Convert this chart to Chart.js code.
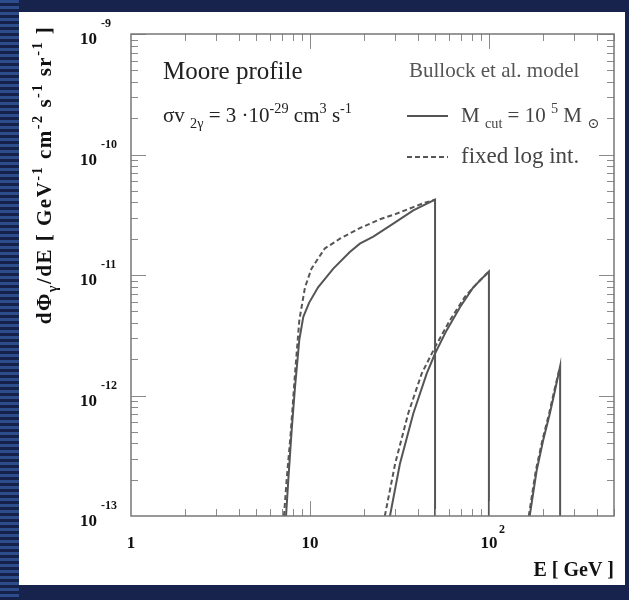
<!DOCTYPE html>
<html>
<head>
<meta charset="utf-8">
<script src="https://cdn.jsdelivr.net/npm/chart.js@4.4.0/dist/chart.umd.min.js"></script>
<style>
    html, body { margin: 0; padding: 0; }
    body { width: 629px; height: 600px; overflow: hidden; position: relative; background: #18234d; }
    #stripes { position: absolute; left: 0; top: 0; width: 19px; height: 600px;
        background: repeating-linear-gradient(to bottom, #2c4c8c 0px, #2c4c8c 3px, #16214a 3px, #16214a 6px); }
    #panel { position: absolute; left: 19px; top: 12px; width: 606px; height: 573px; background: #fff; }
    #wrap { position: absolute; left: 0; top: 0; width: 629px; height: 600px; }
</style>
</head>
<body>
<div id="stripes"></div>
<div id="panel"></div>
<div id="wrap"><canvas id="flux"></canvas></div>
<script>
// energies (GeV) and fluxes, three lines each for M_cut and fixed log int.
var solidE1 = [7.35, 7.57, 7.9, 8.25, 8.72, 9.18, 9.9, 11.1, 13.5, 16.7, 19.0, 22.6, 29.2, 37.8, 50, 50];
var solidF1 = [1e-13, 2.0e-13, 5.1e-13, 1.17e-12, 2.9e-12, 4.5e-12, 5.9e-12, 7.9e-12, 1.13e-11, 1.55e-11, 1.82e-11, 2.08e-11, 2.67e-11, 3.44e-11, 4.22e-11, 1e-13];
var dashE1 = [7.16, 7.41, 7.8, 8.25, 8.72, 9.38, 10.2, 12.1, 14.7, 19.0, 24.6, 30, 37.8, 42.8, 50];
var dashF1 = [1e-13, 2.0e-13, 4.8e-13, 1.52e-12, 4.2e-12, 7.9e-12, 1.13e-11, 1.66e-11, 2.0e-11, 2.45e-11, 2.9e-11, 3.2e-11, 3.66e-11, 3.93e-11, 4.22e-11];

var solidE2 = [28.0, 31.8, 37.8, 44.9, 50, 58, 68.9, 81.7, 100, 100];
var solidF2 = [1e-13, 2.7e-13, 7.1e-13, 1.52e-12, 2.23e-12, 3.47e-12, 5.4e-12, 7.9e-12, 1.07e-11, 1e-13];
var dashE2 = [26.2, 29.9, 35.4, 42.1, 50, 60.5, 73.4, 89, 100];
var dashF2 = [1e-13, 2.7e-13, 7.1e-13, 1.52e-12, 2.52e-12, 4.2e-12, 6.6e-12, 9.0e-12, 1.07e-11];

var solidE3 = [169, 185, 201, 219, 234, 250, 250];
var solidF3 = [1e-13, 2.4e-13, 4.25e-13, 7.1e-13, 1.1e-12, 1.75e-12, 1e-13];
var dashE3 = [167, 183, 199, 217, 232, 250];
var dashF3 = [1e-13, 2.4e-13, 4.25e-13, 7.1e-13, 1.1e-12, 1.75e-12];

var xTicks = [1, 10, 100];          // labelled decades on the energy axis
var xExps = ['', '', '2'];
var yTicks = [1e-13, 1e-12, 1e-11, 1e-10, 1e-9];
var yExps = ['-13', '-12', '-11', '-10', '-9'];

var FONT = "'Liberation Serif', 'DejaVu Serif', serif";
var LINE = '#555555';


function toPoints(xs, ys) {     // pairs the arrays into {x, y} points for the scatter lines
    var pts = [];
    for (var i = 0; i < xs.length; i++) {
        pts.push({ x: xs[i], y: ys[i] });
    }
    return pts;
}


function drawParts(ctx, parts, x, y, size, weight, align) {   // writes text with sub (-1) and superscripts (1)
    var widths = [];
    var total = 0;
    var i, s;
    for (i = 0; i < parts.length; i++) {
        s = parts[i][1] === 0 ? size : size * 0.68;
        ctx.font = weight + ' ' + s + 'px ' + FONT;
        widths.push(ctx.measureText(parts[i][0]).width);
        total += widths[i];
    }
    var cx = align === 'right' ? x - total : (align === 'center' ? x - total / 2 : x);
    ctx.textAlign = 'left';
    ctx.textBaseline = 'alphabetic';
    for (i = 0; i < parts.length; i++) {
        var kind = parts[i][1];
        s = kind === 0 ? size : size * 0.68;
        var dy = kind === 1 ? -size * 0.45 : (kind === -1 ? size * 0.28 : 0);
        ctx.font = weight + ' ' + s + 'px ' + FONT;
        ctx.fillText(parts[i][0], cx, y + dy);
        cx += widths[i];
    }
}


var frame = {       // frame, inward ticks, labels and the text inside the plot
    id: 'frame',
    afterDraw: function(chart) {
        var ctx = chart.ctx;
        var a = chart.chartArea;
        var xs = chart.scales.x;
        var ys = chart.scales.y;
        var d, m, p;
        ctx.save();

        ctx.strokeStyle = '#8a8a8a';
        ctx.lineWidth = 1;
        ctx.beginPath();
        for (d = 1; d <= 100; d *= 10) {            // x ticks, bottom and top
            for (m = 1; m <= 9; m++) {
                var vx = d * m;
                if (vx <= 1 || vx > 500) continue;
                p = Math.round(xs.getPixelForValue(vx)) + 0.5;
                var lx = m === 1 ? 15 : 7;
                ctx.moveTo(p, a.bottom); ctx.lineTo(p, a.bottom - lx);
                ctx.moveTo(p, a.top); ctx.lineTo(p, a.top + lx);
            }
        }
        for (d = 1e-13; d < 1e-9; d *= 10) {        // y ticks, left and right
            for (m = 1; m <= 10; m++) {
                var vy = d * m;
                if (m === 1 && d === 1e-13) continue;
                p = Math.round(ys.getPixelForValue(vy)) + 0.5;
                var ly = (m === 1 || m === 10) ? 15 : 7;
                ctx.moveTo(a.left, p); ctx.lineTo(a.left + ly, p);
                ctx.moveTo(a.right, p); ctx.lineTo(a.right - ly, p);
            }
        }
        ctx.stroke();

        ctx.strokeStyle = '#777777';
        ctx.lineWidth = 1.5;
        ctx.strokeRect(a.left, a.top, a.right - a.left, a.bottom - a.top);

        ctx.fillStyle = '#111111';
        yTicks.forEach(function(v, i) {         // 10 with exponent on the flux axis
            var py = ys.getPixelForValue(v);
            ctx.font = 'bold 17px ' + FONT;
            ctx.textAlign = 'right';
            ctx.textBaseline = 'middle';
            ctx.fillText('10', 97, py + 6);
            ctx.font = 'bold 12px ' + FONT;
            ctx.textAlign = 'left';
            ctx.fillText(yExps[i], 101, py - 10);
        });
        xTicks.forEach(function(v, i) {
            var px = xs.getPixelForValue(v);
            ctx.font = 'bold 17px ' + FONT;
            ctx.textAlign = 'center';
            ctx.textBaseline = 'middle';
            var label = i === 0 ? '1' : '10';
            ctx.fillText(label, px, 544);
            if (xExps[i]) {
                ctx.font = 'bold 12px ' + FONT;
                ctx.textAlign = 'left';
                ctx.fillText(xExps[i], px + 10, 530);
            }
        });

        drawParts(ctx, [['E [ GeV ]', 0]], a.right, 576, 20, 'bold', 'right');

        ctx.save();         // rotated flux title
        ctx.translate(45, 175);
        ctx.rotate(-Math.PI / 2);
        ctx.letterSpacing = '1.5px';
        drawParts(ctx, [['dΦ', 0], ['γ', -1], ['/dE [ GeV', 0], ['-1', 1], [' cm', 0], ['-2', 1],
            [' s', 0], ['-1', 1], [' sr', 0], ['-1', 1], [' ]', 0]], 0, 6, 21, 'bold', 'center');
        ctx.restore();

        ctx.fillStyle = '#222222';
        drawParts(ctx, [['Moore profile', 0]], 163, 79, 25, 'normal', 'left');
        drawParts(ctx, [['σv ', 0], ['2γ', -1], [' = 3 ·10', 0], ['-29', 1], [' cm', 0], ['3', 1], [' s', 0], ['-1', 1]],
            163, 122, 21, 'normal', 'left');

        ctx.fillStyle = '#555555';
        drawParts(ctx, [['Bullock et al. model', 0]], 409, 77, 21, 'normal', 'left');
        ctx.fillStyle = '#444444';
        drawParts(ctx, [['M ', 0], ['cut', -1], [' = 10 ', 0], ['5', 1], [' M ', 0], ['⊙', -1]], 461, 122, 21, 'normal', 'left');
        drawParts(ctx, [['fixed log int.', 0]], 461, 163, 23, 'normal', 'left');

        ctx.strokeStyle = LINE;         // legend samples
        ctx.lineWidth = 2;
        ctx.beginPath();
        ctx.moveTo(407, 116); ctx.lineTo(448, 116);
        ctx.stroke();
        ctx.setLineDash([5, 3]);
        ctx.beginPath();
        ctx.moveTo(407, 157); ctx.lineTo(448, 157);
        ctx.stroke();

        ctx.restore();
    }
};


function lineSet(xs, ys, dashed) {
    return {
        data: toPoints(xs, ys),
        showLine: true,
        borderColor: LINE,
        borderWidth: 2,
        borderDash: dashed ? [5, 3] : [],
        pointRadius: 0,
        tension: 0,
        fill: false
    };
}


var chart = new Chart(document.getElementById('flux'), {
    type: 'scatter',
    data: {
        datasets: [
            lineSet(dashE1, dashF1, true),
            lineSet(dashE2, dashF2, true),
            lineSet(dashE3, dashF3, true),
            lineSet(solidE1, solidF1, false),
            lineSet(solidE2, solidF2, false),
            lineSet(solidE3, solidF3, false)
        ]
    },
    options: {
        responsive: true,
        maintainAspectRatio: false,
        animation: false,
        layout: {
            padding: { left: 131, right: 15, top: 34, bottom: 84 }
        },
        scales: {
            x: { type: 'logarithmic', min: 1, max: 500, display: false },
            y: { type: 'logarithmic', min: 1e-13, max: 1e-9, display: false }
        },
        plugins: {
            legend: { display: false },
            tooltip: { enabled: false }
        }
    },
    plugins: [frame]
});
</script>
</body>
</html>
